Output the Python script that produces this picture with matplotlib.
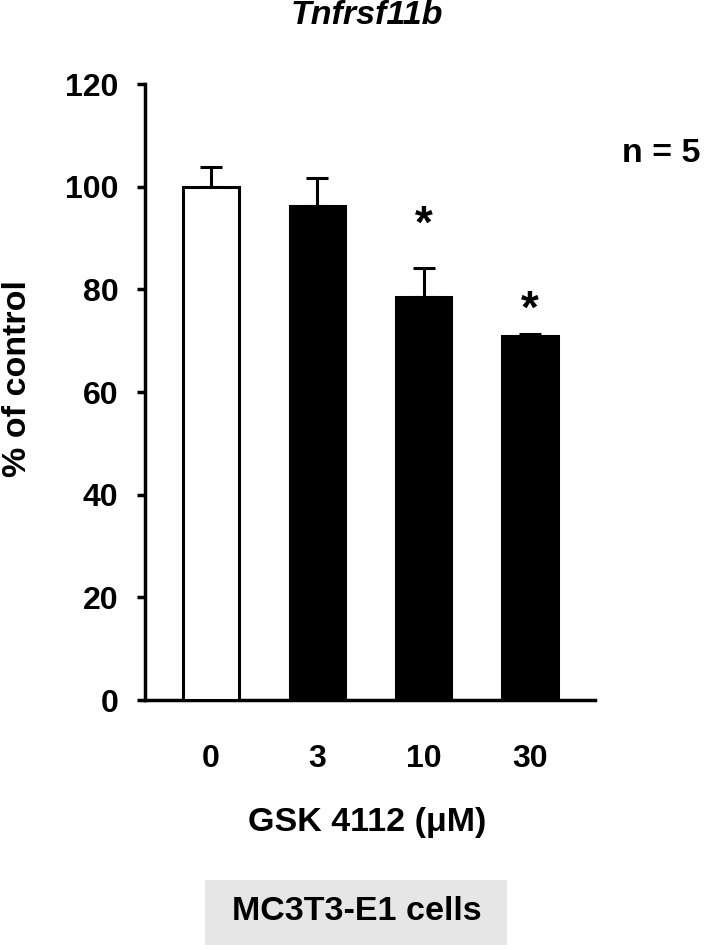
import matplotlib
matplotlib.use("Agg")
import matplotlib.pyplot as plt
from matplotlib.patches import FancyBboxPatch

plt.rcParams['font.family'] = ['Liberation Sans', 'DejaVu Sans']

categories = ["0", "3", "10", "30"]
values = [100.0, 96.3, 78.5, 71.0]
errors = [3.8, 5.3, 5.6, 0.3]
fills = ["white", "black", "black", "black"]
significant = [False, False, True, True]
star_y = [None, None, 92.3, 75.9]
yticks = [0, 20, 40, 60, 80, 100, 120]

fig = plt.figure(figsize=(7.07, 9.5), dpi=100)
ax = fig.add_axes([145/707, 1-700/950, 450/707, 616/950])

x = list(range(len(categories)))
ax.bar(x, values, width=0.52, color=fills, edgecolor="black", linewidth=2.2, zorder=3)
ax.errorbar(x, values, yerr=[[0]*len(errors), errors], fmt="none", ecolor="black",
            elinewidth=2.2, capsize=8, capthick=2.2, zorder=2)

for xi, sig, sy in zip(x, significant, star_y):
    if sig:
        ax.text(xi, sy, "*", ha="center", va="center", fontsize=33, fontweight="bold")

ax.set_xlim(-0.62, 3.61)
ax.set_ylim(0, 120)
ax.set_yticks(yticks)
ax.set_xticks(x)
ax.set_xticklabels(categories)
for s in ["top", "right"]:
    ax.spines[s].set_visible(False)
for s in ["left", "bottom"]:
    ax.spines[s].set_linewidth(2.5)
ax.tick_params(axis="y", direction="out", length=6, width=2.5, pad=13, labelsize=23)
ax.tick_params(axis="x", length=0, pad=32, labelsize=23)
for lab in ax.get_xticklabels() + ax.get_yticklabels():
    lab.set_fontweight("bold")

fs = 24.5
fig.text(367/707, 1-16/950, "Tnfrsf11b", ha="center", va="center", fontsize=fs,
         fontweight="bold", style="italic")
fig.text(18/707, 1-379/950, "% of control", ha="center", va="center", rotation=90,
         fontsize=fs, fontweight="bold")
fig.text(367/707, 1-822/950, "GSK 4112 (\u03bcM)", ha="center", va="center",
         fontsize=fs, fontweight="bold")
fig.text(701/707, 1-153/950, "n = 5", ha="right", va="center", fontsize=fs, fontweight="bold")

box = FancyBboxPatch((205/707, 1-945/950), 302/707, 65/950, boxstyle="square,pad=0",
                     transform=fig.transFigure, facecolor="#e6e6e6", edgecolor="none")
fig.patches.append(box)
fig.text(357/707, 1-912/950, "MC3T3-E1 cells", ha="center", va="center", fontsize=fs,
         fontweight="bold")

fig.savefig("out.png", dpi=100)
